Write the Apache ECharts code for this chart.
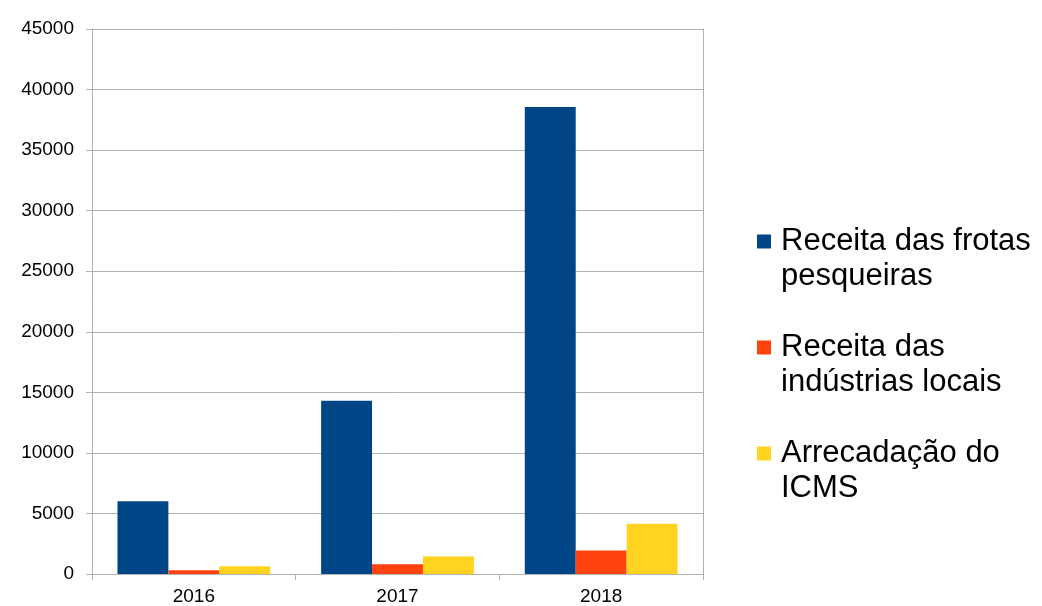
<!DOCTYPE html>
<html>
<head>
<meta charset="utf-8">
<script src="https://cdn.jsdelivr.net/npm/echarts@6/dist/echarts.min.js"></script>
<style>
html,body{margin:0;padding:0;background:#fff;}
#chart{width:1042px;height:606px;}
</style>
</head>
<body>
<div id="chart"></div>
<script>
var categories = ['2016', '2017', '2018'];
var seriesNames = ['Receita das frotas pesqueiras', 'Receita das indústrias locais', 'Arrecadação do ICMS'];
var legendLabels = ['Receita das frotas\npesqueiras', 'Receita das\nindústrias locais', 'Arrecadação do\nICMS'];
var frotas = [6000, 14300, 38550];
var industrias = [300, 800, 1950];
var icms = [650, 1450, 4150];
var yTicks = [0, 5000, 10000, 15000, 20000, 25000, 30000, 35000, 40000, 45000];
var colors = ['#004586', '#ff420e', '#ffd320'];

var chart = echarts.init(document.getElementById('chart'), null, {renderer: 'canvas'});
var font = '"Liberation Sans", Arial, sans-serif';
var gridColor = '#b3b3b3';

var option = {
  animation: false,
  backgroundColor: '#ffffff',
  color: colors,
  grid: {left: 92, right: 339, top: 29, bottom: 32, containLabel: false},
  legend: {
    orient: 'vertical',
    left: 757,
    top: 189,
    padding: 0,
    itemWidth: 14,
    itemHeight: 14,
    itemGap: 1,
    icon: 'rect',
    selectedMode: false,
    data: seriesNames,
    formatter: function (name) {
      return '\n' + legendLabels[seriesNames.indexOf(name)];
    },
    textStyle: {
      fontFamily: font,
      fontSize: 31,
      lineHeight: 35,
      color: '#000000',
      padding: [0, 0, 0, 5]
    }
  },
  xAxis: {
    type: 'category',
    data: categories,
    boundaryGap: true,
    axisLine: {show: true, lineStyle: {color: gridColor, width: 1}},
    axisTick: {show: true, length: 6, alignWithLabel: false, lineStyle: {color: gridColor}},
    axisLabel: {fontFamily: font, fontSize: 19, color: '#000000', margin: 13},
    splitLine: {show: false}
  },
  yAxis: [{
    type: 'value',
    min: 0,
    max: 45000,
    interval: 5000,
    axisLine: {show: true, lineStyle: {color: gridColor, width: 1}},
    axisTick: {show: true, length: 6, lineStyle: {color: gridColor}},
    axisLabel: {
      fontFamily: font, fontSize: 19, color: '#000000', margin: 18,
      formatter: function (v) { return yTicks.indexOf(v) >= 0 ? String(v) : ''; }
    },
    splitLine: {show: true, lineStyle: {color: gridColor, width: 1}}
  }, {
    type: 'value',
    position: 'right',
    min: 0,
    max: 45000,
    interval: 5000,
    axisLine: {show: true, lineStyle: {color: gridColor, width: 1}},
    axisTick: {show: false},
    axisLabel: {show: false},
    splitLine: {show: false}
  }],
  series: [
    {name: seriesNames[0], type: 'bar', data: frotas, barGap: '0%', barCategoryGap: '25%', itemStyle: {color: colors[0]}},
    {name: seriesNames[1], type: 'bar', data: industrias, barGap: '0%', barCategoryGap: '25%', itemStyle: {color: colors[1]}},
    {name: seriesNames[2], type: 'bar', data: icms, barGap: '0%', barCategoryGap: '25%', itemStyle: {color: colors[2]}}
  ]
};
chart.setOption(option);
</script>
</body>
</html>
